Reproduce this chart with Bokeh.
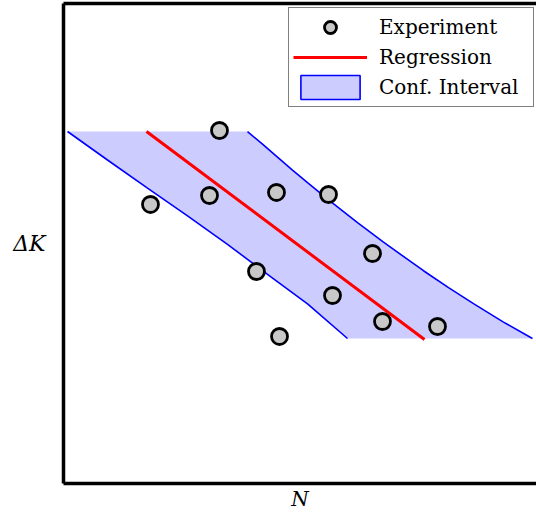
from bokeh.plotting import figure
from bokeh.models import (Range1d, LinearAxis, FixedTicker, Legend, LegendItem)
from bokeh.embed import file_html
from bokeh.resources import INLINE

# Measured data (N on x, Delta K on y; arbitrary 0-100 units)
exp_n = [18.39, 32.98, 30.87, 45.03, 56.03, 40.80, 65.33, 56.87, 67.44, 79.07, 45.67]
exp_dk = [58.13, 73.54, 60.00, 60.63, 60.21, 44.17, 47.92, 39.17, 33.75, 32.71, 30.63]

# Fitted regression line end points
reg_n = [17.55, 76.32]
reg_dk = [73.33, 30.00]

# Confidence band limits (clipped to the data range of Delta K)
lower_n = [0.85, 9.30, 17.76, 26.22, 34.67, 43.13, 51.59, 60.04]
lower_dk = [73.33, 67.40, 61.52, 55.75, 49.83, 43.56, 37.40, 30.21]
upper_n = [38.90, 42.07, 45.24, 48.41, 51.59, 56.03, 62.16, 67.65, 76.11,
           81.40, 86.68, 93.02, 99.15]
upper_dk = [73.33, 70.69, 67.98, 65.29, 62.67, 59.10, 54.35, 50.27, 44.33,
            40.81, 37.46, 33.63, 30.21]

SERIF = "DejaVu Serif"

p = figure(width=536, height=515, output_backend="svg", toolbar_location=None,
           x_range=Range1d(0, 100), y_range=Range1d(0, 100),
           x_axis_location=None, y_axis_location=None,
           min_border_left=63, min_border_right=0,
           min_border_top=3, min_border_bottom=32)
p.outline_line_color = None
p.xgrid.visible = False
p.ygrid.visible = False
p.background_fill_color = "white"
p.border_fill_color = "white"


def bare_axis():
    ax = LinearAxis(ticker=FixedTicker(ticks=[]))
    ax.axis_line_width = 3.5
    ax.axis_line_color = "black"
    ax.major_tick_line_color = None
    ax.minor_tick_line_color = None
    ax.major_tick_in = 0
    ax.major_tick_out = 0
    ax.major_label_standoff = 0
    ax.major_label_text_font_size = "0px"
    ax.axis_label_text_font = SERIF
    ax.axis_label_text_font_size = "20px"
    ax.axis_label_text_font_style = "italic"
    ax.axis_label_text_color = "black"
    return ax


# Frame drawn from three bare axes (left, top, bottom)
left_ax = bare_axis()
left_ax.axis_label = "ΔK"
left_ax.axis_label_text_font_size = "22px"
left_ax.axis_label_standoff = 18
left_ax.axis_label_orientation = "horizontal"
p.add_layout(left_ax, "left")

p.add_layout(bare_axis(), "above")

bottom_ax = bare_axis()
bottom_ax.axis_label = "N"
bottom_ax.axis_label_standoff = 3
p.add_layout(bottom_ax, "below")

# Confidence band fill: top edge, upper curve, bottom edge, lower curve
patch_x = upper_n + lower_n[::-1]
patch_y = upper_dk + lower_dk[::-1]
p.patch(patch_x, patch_y, fill_color="#ccccff", line_color=None)

p.line(lower_n, lower_dk, line_color="#0000ff", line_width=1.6)
p.line(upper_n, upper_dk, line_color="#0000ff", line_width=1.6)

reg = p.line(reg_n, reg_dk, line_color="#ff0000", line_width=3)

pts = p.scatter(exp_n, exp_dk, size=16, fill_color="#c8c8c8",
                line_color="black", line_width=2.8)

# Legend proxy for the band (no visible extent in the plot)
nan = float("nan")
band_proxy = p.quad(left=[nan], right=[nan], top=[nan], bottom=[nan],
                    fill_color="#ccccff", line_color="#0000ff", line_width=1.6)

legend = Legend(items=[
    LegendItem(label="Experiment", renderers=[pts]),
    LegendItem(label="Regression", renderers=[reg]),
    LegendItem(label="Conf. Interval", renderers=[band_proxy]),
], location=(225, 376))
legend.label_text_font = SERIF
legend.label_text_font_size = "20px"
legend.label_text_color = "black"
legend.glyph_width = 74
legend.glyph_height = 30
legend.label_height = 30
legend.label_width = 150
legend.label_standoff = 12
legend.spacing = 0
legend.padding = 4
legend.margin = 0
legend.border_line_color = "black"
legend.border_line_width = 1.5
legend.background_fill_color = "white"
legend.background_fill_alpha = 1
p.add_layout(legend)

open("out.html", "w").write(file_html(p, INLINE))
